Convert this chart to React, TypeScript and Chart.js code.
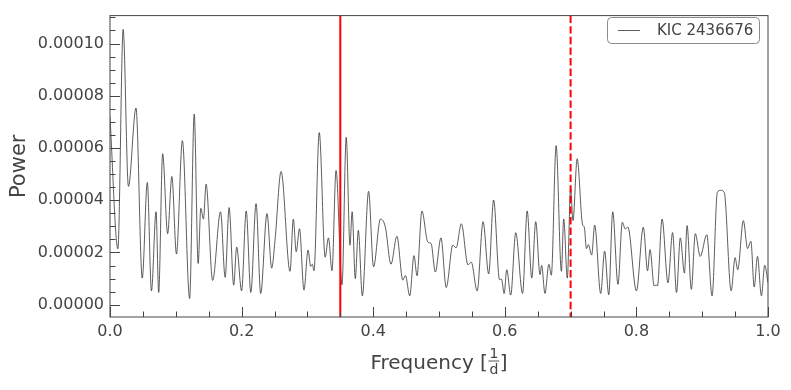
import React, { useEffect, useRef } from "react";
import { Chart, registerables } from "chart.js";

Chart.register(...registerables);

// ---- data ----
const frequency = [
  0.000, 0.012, 0.020, 0.028, 0.0395, 0.049, 0.0567, 0.063, 0.070, 0.074,
  0.080, 0.0876, 0.094, 0.101, 0.110, 0.121, 0.128, 0.134, 0.138, 0.142,
  0.146, 0.156, 0.168, 0.175, 0.181, 0.188, 0.1925, 0.200, 0.207, 0.214,
  0.222, 0.229, 0.2386, 0.2457, 0.251, 0.260, 0.2736, 0.2786, 0.283, 0.288,
  0.2948, 0.301, 0.305, 0.3075, 0.310, 0.318, 0.327, 0.332, 0.3374, 0.3435,
  0.3526, 0.359, 0.3647, 0.368, 0.3728, 0.3774, 0.3835, 0.393, 0.4005, 0.411,
  0.4185, 0.427, 0.436, 0.445, 0.449, 0.4555, 0.462, 0.4666, 0.474, 0.483,
  0.488, 0.4944, 0.503, 0.511, 0.521, 0.526, 0.534, 0.544, 0.549, 0.558,
  0.567, 0.5755, 0.583, 0.592, 0.595, 0.599, 0.603, 0.609, 0.6166, 0.627,
  0.634, 0.641, 0.647, 0.6535, 0.656, 0.661, 0.667, 0.6707, 0.678, 0.686,
  0.6895, 0.695, 0.700, 0.7036, 0.710, 0.718, 0.721, 0.724, 0.727, 0.732,
  0.7366, 0.7457, 0.7517, 0.758, 0.764, 0.772, 0.7786, 0.783, 0.787, 0.800,
  0.8105, 0.817, 0.8207, 0.827, 0.830, 0.832, 0.839, 0.848, 0.855, 0.861,
  0.8667, 0.873, 0.877, 0.8835, 0.8895, 0.897, 0.907, 0.915, 0.923, 0.928,
  0.9335, 0.944, 0.950, 0.954, 0.9625, 0.969, 0.974, 0.979, 0.984, 0.990,
  0.995, 1.000,
];

const power = [
  7.17e-5, 2.14e-5, 10.54e-5, 4.53e-5, 7.53e-5, 1.02e-5, 4.68e-5, 0.53e-5, 3.56e-5, 0.47e-5,
  5.78e-5, 2.72e-5, 4.91e-5, 1.94e-5, 6.28e-5, 0.24e-5, 7.30e-5, 1.58e-5, 3.69e-5, 3.28e-5,
  4.62e-5, 0.93e-5, 3.56e-5, 1.05e-5, 3.72e-5, 0.75e-5, 2.21e-5, 0.53e-5, 3.59e-5, 0.47e-5,
  3.87e-5, 0.43e-5, 3.49e-5, 1.40e-5, 2.53e-5, 5.10e-5, 1.28e-5, 3.28e-5, 2.03e-5, 2.91e-5,
  0.56e-5, 2.09e-5, 1.47e-5, 1.55e-5, 1.30e-5, 6.59e-5, 1.82e-5, 2.56e-5, 1.30e-5, 5.14e-5,
  0.76e-5, 6.41e-5, 2.28e-5, 3.56e-5, 1.00e-5, 2.85e-5, 0.34e-5, 4.34e-5, 1.45e-5, 3.28e-5,
  2.97e-5, 1.55e-5, 2.62e-5, 0.94e-5, 1.12e-5, 0.34e-5, 1.88e-5, 1.11e-5, 3.59e-5, 2.40e-5,
  2.34e-5, 1.25e-5, 2.56e-5, 0.66e-5, 2.28e-5, 2.18e-5, 3.10e-5, 1.53e-5, 1.63e-5, 0.53e-5,
  3.18e-5, 1.18e-5, 4.01e-5, 0.96e-5, 0.98e-5, 0.43e-5, 1.34e-5, 0.37e-5, 2.76e-5, 0.43e-5,
  3.59e-5, 1.02e-5, 3.18e-5, 1.15e-5, 1.51e-5, 0.43e-5, 1.55e-5, 1.13e-5, 6.09e-5, 1.28e-5,
  3.28e-5, 1.02e-5, 4.47e-5, 3.22e-5, 5.59e-5, 3.09e-5, 2.95e-5, 2.15e-5, 2.30e-5, 1.90e-5,
  3.05e-5, 0.43e-5, 2.05e-5, 0.38e-5, 3.56e-5, 0.78e-5, 3.16e-5, 2.90e-5, 2.97e-5, 0.53e-5,
  2.97e-5, 1.30e-5, 2.11e-5, 0.72e-5, 0.76e-5, 0.72e-5, 3.28e-5, 0.84e-5, 2.76e-5, 0.47e-5,
  2.56e-5, 1.21e-5, 3.03e-5, 0.59e-5, 2.72e-5, 1.85e-5, 2.68e-5, 0.34e-5, 4.30e-5, 4.38e-5,
  4.30e-5, 0.53e-5, 1.80e-5, 1.34e-5, 3.22e-5, 2.15e-5, 2.43e-5, 0.68e-5, 1.85e-5, 0.34e-5,
  1.51e-5, 0.84e-5,
];

const markerSolid = 0.35;
const markerDashed = 0.7;
const xTicks = [0, 0.2, 0.4, 0.6, 0.8, 1.0];
const yTicks = [0, 0.00002, 0.00004, 0.00006, 0.00008, 0.0001];
const xMinorStep = 0.05;
const yMinorStep = 0.000005;
const X_MIN = 0;
const X_MAX = 1;
const Y_MIN = -0.0000047;
const Y_MAX = 0.0001107;
const legendLabel = "KIC 2436676";
const yTitle = "Power";
const xTitleMain = "Frequency [";
const xTitleNum = "1";
const xTitleDen = "d";
const xTitleEnd = "]";

const FONT = '"DejaVu Sans", sans-serif';
const TEXT = "#444444";

const decorPlugin = {
  id: "decor",
  afterDraw(chart: any) {
    const ctx = chart.ctx as CanvasRenderingContext2D;
    const a = chart.chartArea;
    const xs = chart.scales.x;
    const ys = chart.scales.y;
    ctx.save();
    // frame
    ctx.strokeStyle = "#444444";
    ctx.lineWidth = 1;
    ctx.strokeRect(a.left, a.top, a.right - a.left, a.bottom - a.top);
    // ticks (inward)
    ctx.beginPath();
    const nx = Math.round((X_MAX - X_MIN) / xMinorStep);
    for (let i = 0; i <= nx; i++) {
      const v = X_MIN + i * xMinorStep;
      const major = xTicks.some((t) => Math.abs(t - v) < 1e-9);
      const px = Math.round(xs.getPixelForValue(v)) + 0.5;
      const len = major ? 10 : 5.5;
      ctx.moveTo(px, a.bottom);
      ctx.lineTo(px, a.bottom - len);
    }
    const ny0 = Math.ceil(Y_MIN / yMinorStep);
    const ny1 = Math.floor(Y_MAX / yMinorStep);
    for (let i = ny0; i <= ny1; i++) {
      const v = i * yMinorStep;
      const major = yTicks.some((t) => Math.abs(t - v) < 1e-12);
      const py = Math.round(ys.getPixelForValue(v)) + 0.5;
      const len = major ? 10 : 5.5;
      ctx.moveTo(a.left, py);
      ctx.lineTo(a.left + len, py);
    }
    ctx.stroke();

    // legend
    const lx = 607.5, ly = 17.5, lw = 152, lh = 26;
    ctx.beginPath();
    (ctx as any).roundRect(lx, ly, lw, lh, 4);
    ctx.fillStyle = "rgba(255,255,255,0.85)";
    ctx.fill();
    ctx.strokeStyle = "#8a8a8a";
    ctx.lineWidth = 1;
    ctx.stroke();
    ctx.beginPath();
    ctx.strokeStyle = "#333333";
    ctx.lineWidth = 0.8;
    ctx.moveTo(618, ly + lh / 2);
    ctx.lineTo(640, ly + lh / 2);
    ctx.stroke();
    ctx.fillStyle = TEXT;
    ctx.font = `15px ${FONT}`;
    ctx.textAlign = "left";
    ctx.textBaseline = "middle";
    ctx.fillText(legendLabel, 657, ly + lh / 2 + 0.5);

    // y title
    ctx.save();
    ctx.translate(20, (a.top + a.bottom) / 2);
    ctx.rotate(-Math.PI / 2);
    ctx.font = `21px ${FONT}`;
    ctx.textAlign = "center";
    ctx.textBaseline = "middle";
    ctx.fillText(yTitle, 0, 0);
    ctx.restore();

    // x title with fraction
    const cx = (a.left + a.right) / 2;
    const base = 369;
    ctx.font = `20px ${FONT}`;
    const w1 = ctx.measureText(xTitleMain).width;
    const w3 = ctx.measureText(xTitleEnd).width;
    ctx.font = `14px ${FONT}`;
    const wn = ctx.measureText(xTitleNum).width;
    const wd = ctx.measureText(xTitleDen).width;
    const wf = Math.max(wn, wd) + 3;
    const total = w1 + wf + w3;
    let x0 = cx - total / 2;
    ctx.textBaseline = "alphabetic";
    ctx.textAlign = "left";
    ctx.font = `20px ${FONT}`;
    ctx.fillText(xTitleMain, x0, base);
    const fx = x0 + w1;
    ctx.font = `14px ${FONT}`;
    ctx.fillText(xTitleNum, fx + (wf - wn) / 2, base - 11);
    ctx.fillText(xTitleDen, fx + (wf - wd) / 2, base + 5);
    ctx.beginPath();
    ctx.strokeStyle = TEXT;
    ctx.lineWidth = 0.9;
    ctx.moveTo(fx + 0.5, base - 8);
    ctx.lineTo(fx + wf - 0.5, base - 8);
    ctx.stroke();
    ctx.font = `20px ${FONT}`;
    ctx.fillText(xTitleEnd, fx + wf, base);
    ctx.restore();
  },
};

export default function App() {
  const ref = useRef<HTMLCanvasElement | null>(null);
  useEffect(() => {
    if (!ref.current) return;
    Chart.defaults.font.family = FONT;
    const chart = new Chart(ref.current, {
      type: "line",
      data: {
        datasets: [
          {
            label: "solid marker",
            data: [
              { x: markerSolid, y: Y_MIN },
              { x: markerSolid, y: Y_MAX },
            ],
            borderColor: "#ff0000",
            borderWidth: 2,
            pointRadius: 0,
          },
          {
            label: "dashed marker",
            data: [
              { x: markerDashed, y: Y_MAX },
              { x: markerDashed, y: Y_MIN },
            ],
            borderColor: "#ff0000",
            borderWidth: 2,
            borderDash: [7.4, 3.2],
            pointRadius: 0,
          },
          {
            label: legendLabel,
            data: frequency.map((f, i) => ({ x: f, y: power[i] })),
            borderColor: "#333333",
            borderWidth: 0.8,
            pointRadius: 0,
            cubicInterpolationMode: "monotone",
          },
        ],
      } as any,
      options: {
        animation: false,
        responsive: false,
        events: [],
        layout: { padding: { top: 9.5, right: 23, left: 0, bottom: 0 } },
        plugins: { legend: { display: false }, tooltip: { enabled: false } },
        scales: {
          x: {
            type: "linear",
            min: X_MIN,
            max: X_MAX,
            afterBuildTicks: (s: any) => {
              s.ticks = xTicks.map((v) => ({ value: v }));
            },
            afterFit: (s: any) => {
              s.height = 73;
            },
            grid: { display: false, drawTicks: false },
            border: { display: false },
            ticks: {
              padding: 5,
              color: TEXT,
              font: { size: 16, family: FONT },
              maxRotation: 0,
              callback: (v: any) => Number(v).toFixed(1),
            },
          },
          y: {
            type: "linear",
            min: Y_MIN,
            max: Y_MAX,
            afterBuildTicks: (s: any) => {
              s.ticks = yTicks.map((v) => ({ value: v }));
            },
            afterFit: (s: any) => {
              s.width = 110;
            },
            grid: { display: false, drawTicks: false },
            border: { display: false },
            ticks: {
              padding: 6,
              color: TEXT,
              font: { size: 16, family: FONT },
              callback: (v: any) => Number(v).toFixed(5),
            },
          },
        },
      } as any,
      plugins: [decorPlugin],
    });
    return () => chart.destroy();
  }, []);
  return (
    <div style={{ position: "absolute", left: 0, top: 0, width: 791, height: 390, background: "#fff" }}>
      <canvas ref={ref} width={791} height={390} style={{ display: "block" }} />
    </div>
  );
}
